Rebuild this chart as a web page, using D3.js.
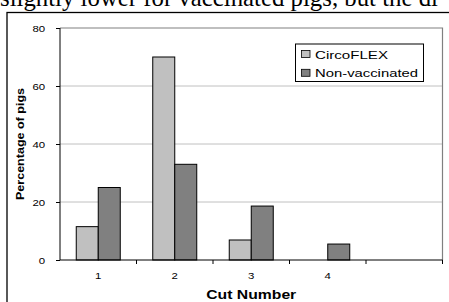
<!DOCTYPE html>
<html>
<head>
<meta charset="utf-8">
<script src="https://cdn.jsdelivr.net/npm/d3@7"></script>
<style>
  body { margin: 0; background: #fff; }
  svg { display: block; }
  text { font-family: Arial, "Liberation Sans", sans-serif; }
</style>
</head>
<body>
<svg id="chart" width="449" height="302"></svg>
<script>
// données
var categories = ["1", "2", "3", "4", ""];
var circoflex = [11.5, 70, 6.9, 0, null];
var nonVaccinated = [25, 33, 18.6, 5.5, null];
var yTicks = [0, 20, 40, 60, 80];
var seriesNames = ["CircoFLEX", "Non-vaccinated"];
var seriesColors = ["#c0c0c0", "#808080"];

var svg = d3.select("#chart");
var sx = 1.2; // l'image d'origine est étirée horizontalement

// texte coupé au-dessus du graphique
svg.append("text")
   .attr("x", 0)
   .attr("y", 5.5)
   .style("font-family", "'Liberation Serif', 'Times New Roman', serif")
   .style("font-size", "24.8px")
   .text("slightly lower for vaccinated pigs, but the di");

// cadre extérieur
svg.append("rect")
   .attr("x", 7)
   .attr("y", 12.5)
   .attr("width", 460)
   .attr("height", 300)
   .style("fill", "none")
   .style("stroke", "#000")
   .style("stroke-width", 1.3);

var plotL = 60, plotT = 28, plotR = 442.5, plotB = 260;

var x = d3.scaleBand().domain(categories).range([plotL, plotR]);
var y = d3.scaleLinear().domain([0, 80]).range([plotB, plotT]);

// grille
svg.append("g")
   .selectAll("line")
   .data(yTicks.filter(function(d) { return d > 0 && d < 80; }))
   .enter().append("line")
   .attr("x1", plotL).attr("x2", plotR)
   .attr("y1", function(d) { return y(d); })
   .attr("y2", function(d) { return y(d); })
   .style("stroke", "#c0c0c0")
   .style("stroke-width", 1);

// bord de la zone de tracé (haut + droite)
svg.append("path")
   .attr("d", "M" + plotL + "," + plotT + "H" + plotR + "V" + plotB)
   .style("fill", "none")
   .style("stroke", "#808080")
   .style("stroke-width", 1.2);

// barres
var inner = d3.scaleBand().domain([0, 1]).range([0, 44]);
var pad = (x.bandwidth() - 44) / 2;
[circoflex, nonVaccinated].forEach(function(values, s) {
  svg.append("g")
     .selectAll("rect")
     .data(values.map(function(v, i) { return {cat: categories[i], v: v}; })
                 .filter(function(d) { return d.v; }))
     .enter().append("rect")
     .attr("x", function(d) { return x(d.cat) + pad + inner(s); })
     .attr("y", function(d) { return y(d.v); })
     .attr("width", inner.bandwidth())
     .attr("height", function(d) { return plotB - y(d.v); })
     .style("fill", seriesColors[s])
     .style("stroke", "#000")
     .style("stroke-width", 1);
});

// axe Y
var yAxis = svg.append("g")
   .attr("transform", "translate(" + plotL + ",0)")
   .call(d3.axisLeft(y).tickValues(yTicks).tickSize(4).tickPadding(8));
yAxis.selectAll("text")
   .style("font-size", "9.5px").style("fill", "#000")
   .attr("transform", "translate(-0.5,0) scale(" + sx + ",1)");
yAxis.select(".domain").attr("d", "M0," + plotT + "V" + plotB);

// axe X
var xAxis = svg.append("g")
   .attr("transform", "translate(0," + plotB + ")")
   .call(d3.axisBottom(x).tickSize(0).tickPadding(12));
xAxis.selectAll("text")
   .style("font-size", "9.5px").style("fill", "#000")
   .attr("transform", "scale(" + sx + ",1)");
xAxis.select(".domain").attr("d", "M" + plotL + ",0H" + plotR);
xAxis.selectAll(".boundary")
   .data(categories.map(function(c) { return x(c); }).concat([plotR]).slice(1))
   .enter().append("line")
   .attr("class", "boundary")
   .attr("x1", function(d) { return d; })
   .attr("x2", function(d) { return d; })
   .attr("y1", 0).attr("y2", 4)
   .style("stroke", "#000");

// titres des axes
svg.append("text")
   .attr("transform", "translate(23.5," + ((plotT + plotB) / 2) + ") rotate(-90)")
   .attr("text-anchor", "middle")
   .attr("textLength", 112)
   .attr("lengthAdjust", "spacingAndGlyphs")
   .style("font-size", "11px")
   .style("font-weight", "bold")
   .text("Percentage of pigs");

svg.append("text")
   .attr("x", (plotL + plotR) / 2)
   .attr("y", 299)
   .attr("text-anchor", "middle")
   .attr("textLength", 90)
   .attr("lengthAdjust", "spacingAndGlyphs")
   .style("font-size", "12px")
   .style("font-weight", "bold")
   .text("Cut Number");

// légende
var legend = svg.append("g").attr("transform", "translate(295.5,44)");
legend.append("rect")
   .attr("width", 128).attr("height", 37.5)
   .style("fill", "#fff")
   .style("stroke", "#000")
   .style("stroke-width", 1);
var legendWidths = [73, 103];
seriesNames.forEach(function(name, i) {
  legend.append("rect")
     .attr("x", 6).attr("y", 6.5 + i * 18.8)
     .attr("width", 8.5).attr("height", 7)
     .style("fill", seriesColors[i])
     .style("stroke", "#000")
     .style("stroke-width", 0.8);
  legend.append("text")
     .attr("x", 19.5).attr("y", 14.5 + i * 18.8)
     .attr("textLength", legendWidths[i])
     .attr("lengthAdjust", "spacingAndGlyphs")
     .style("font-size", "10.7px")
     .text(name);
});
</script>
</body>
</html>
